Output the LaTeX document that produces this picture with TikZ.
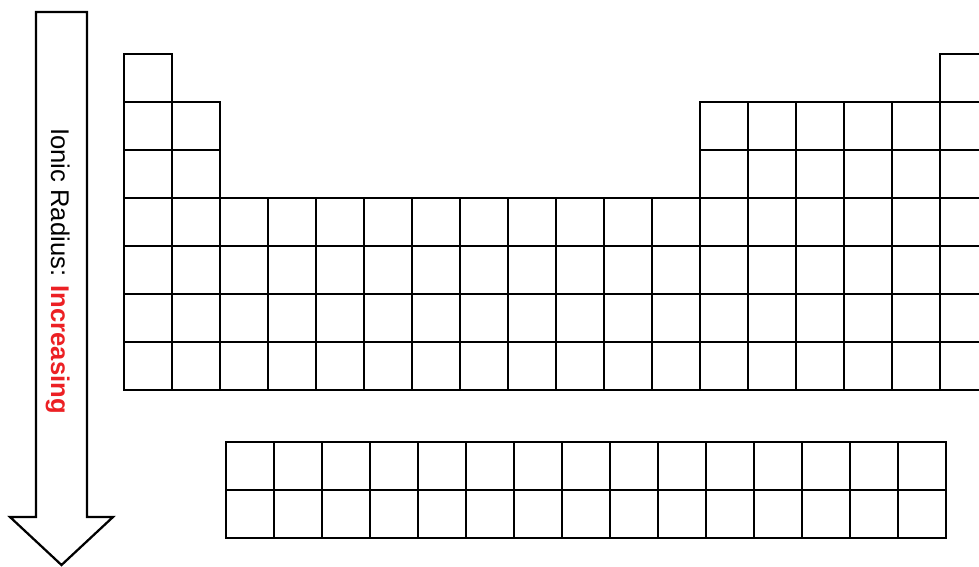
\documentclass[tikz,border=0pt]{standalone}
\usepackage{fontspec}
\setmainfont{Liberation Sans}
\usepackage{tikz}
\usetikzlibrary{positioning}

\definecolor{trendred}{RGB}{236,32,36}
\tikzset{
    cell/.style={draw=black, line width=1.6pt},
    bigarrow/.style={draw=black, line width=1.6pt, fill=white, line join=miter}
}

\begin{document}
\begin{tikzpicture}[x=0.025cm, y=-0.025cm]
    \useasboundingbox (0,0) rectangle (979,566);
    \clip (0,0) rectangle (979,566);

    % Trend arrow
    \draw[bigarrow] (36,12) -- (87,12) -- (87,517) -- (113,517) -- (61.5,565)
        -- (10,517) -- (36,517) -- cycle;
    \node[rotate=-90, anchor=base west, inner sep=0pt, font=\fontsize{18.2}{20}\selectfont]
        (trend) at (51,128) {Ionic Radius: \textcolor{trendred}{\bfseries Increasing}};

    % Period 1
    \foreach \c in {0,17} {
        \draw[cell] (124+48*\c,54) rectangle +(48,48);
    }
    % Periods 2 and 3
    \foreach \r in {0,1} {
        \foreach \c in {0,1,12,13,14,15,16,17} {
            \draw[cell] (124+48*\c,102+48*\r) rectangle +(48,48);
        }
    }
    % Periods 4 to 7
    \foreach \r in {0,...,3} {
        \foreach \c in {0,...,17} {
            \draw[cell] (124+48*\c,198+48*\r) rectangle +(48,48);
        }
    }

    % Lanthanides and actinides
    \foreach \r in {0,1} {
        \foreach \c in {0,...,14} {
            \draw[cell] (226+48*\c,442+48*\r) rectangle +(48,48);
        }
    }
\end{tikzpicture}
\end{document}
